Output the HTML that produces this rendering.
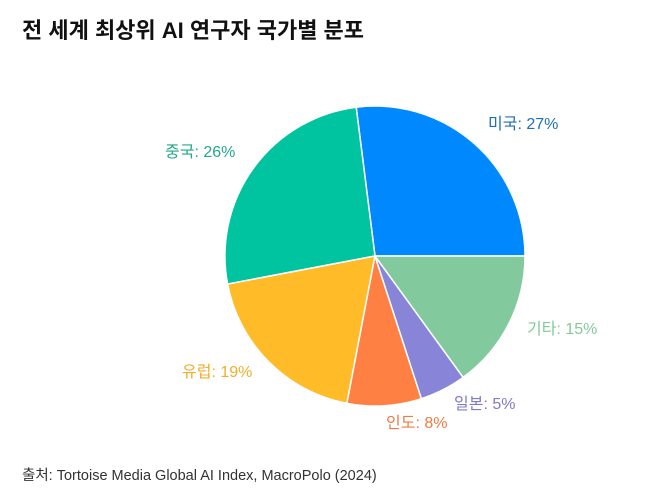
<!DOCTYPE html>
<html><head><meta charset="utf-8"><style>
body{margin:0;background:#fff;width:658px;height:495px;overflow:hidden;font-family:"Liberation Sans","Noto Sans CJK KR",sans-serif}
</style></head><body>
<svg width="658" height="495" xmlns="http://www.w3.org/2000/svg" style="position:absolute;left:0;top:0">
<text x="22" y="38" font-size="22" font-weight="bold" fill="#111" font-family="Liberation Sans, Noto Sans CJK KR, sans-serif">전 세계 최상위 AI 연구자 국가별 분포</text>
<g stroke="#fff" stroke-width="1.5">
<path d="M375,256 L525,256 A150,150 0 0 0 356.2,107.2 Z" fill="#0088FE"/>
<path d="M375,256 L356.2,107.2 A150,150 0 0 0 227.6,284.1 Z" fill="#00C49F"/>
<path d="M375,256 L227.6,284.1 A150,150 0 0 0 346.9,403.3 Z" fill="#FFBB28"/>
<path d="M375,256 L346.9,403.3 A150,150 0 0 0 421.4,398.7 Z" fill="#FF8042"/>
<path d="M375,256 L421.4,398.7 A150,150 0 0 0 463.2,377.4 Z" fill="#8884D8"/>
<path d="M375,256 L463.2,377.4 A150,150 0 0 0 525,256 Z" fill="#82CA9D"/>
</g>
<g font-size="16" font-family="Liberation Sans, Noto Sans CJK KR, sans-serif">
<text x="488" y="129" fill="#1E6FB5">미국: 27%</text>
<text x="165" y="157" fill="#22A88A">중국: 26%</text>
<text x="527" y="334" fill="#82CA9D">기타: 15%</text>
<text x="182" y="377" fill="#F0AE2A">유럽: 19%</text>
<text x="454" y="409" fill="#7F7BC8">일본: 5%</text>
<text x="386" y="428" fill="#F07A42">인도: 8%</text>
</g>
<text x="22" y="480" font-size="14.5" fill="#333" font-family="Liberation Sans, Noto Sans CJK KR, sans-serif">출처: Tortoise Media Global AI Index, MacroPolo (2024)</text>
</svg>
</body></html>
